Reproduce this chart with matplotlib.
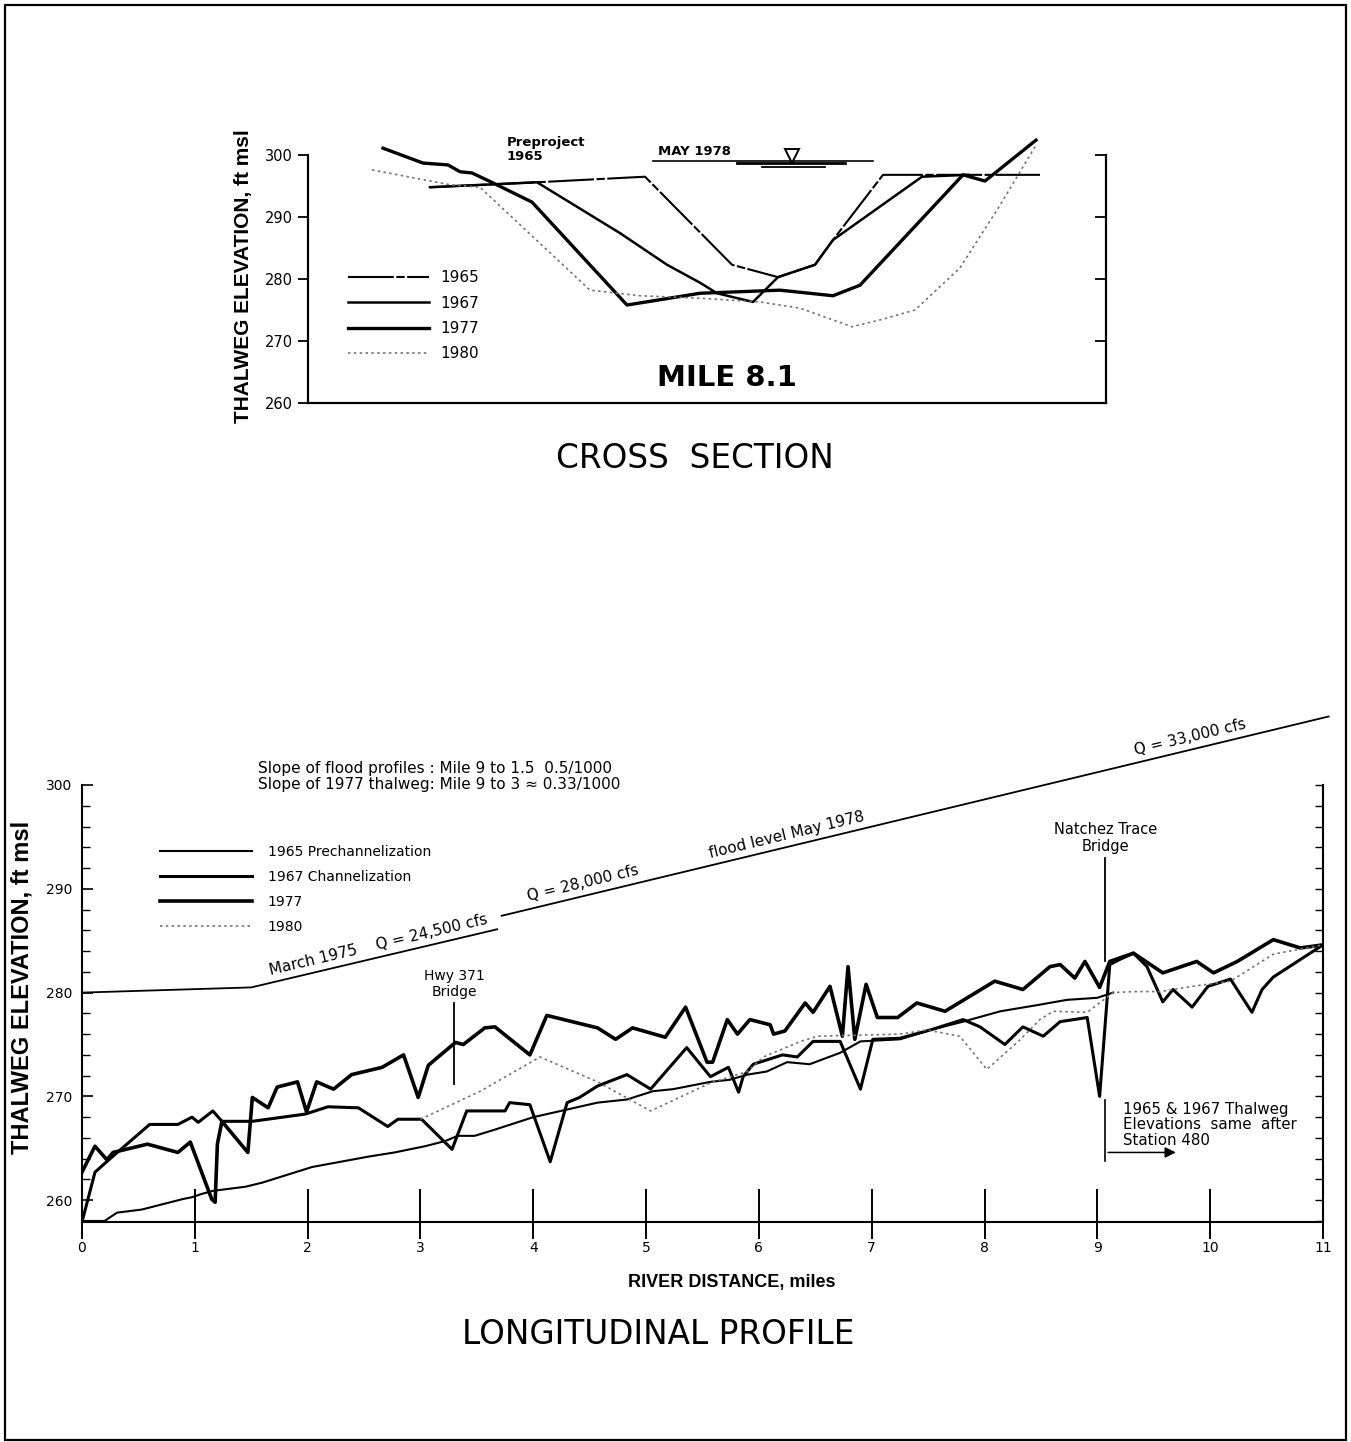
import math
import numpy as np
import matplotlib
matplotlib.use("Agg")
import matplotlib.pyplot as plt
from matplotlib.patches import Rectangle

# ------------------------------------------------------------------
# Cross section, Mile 8.1 (x = relative distance across channel, ft)
# ------------------------------------------------------------------
xs1965_x = [61, 114.5, 168.5, 212, 235, 253.5, 262.5, 287.5, 366]
xs1965_y = [294.8, 295.6, 296.5, 282.3, 280.3, 282.3, 286.3, 296.8, 296.8]

xs1967_x = [61, 114.5, 156, 179.5, 196, 204.5, 222.5, 235, 253.5, 262.5, 307, 330]
xs1967_y = [294.8, 295.6, 287.4, 282.3, 279.4, 277.7, 276.3, 280.3, 282.3, 286.3, 296.5, 296.8]

xs1977_x = [37.5, 57.5, 70, 76, 82, 92.5, 112, 159.5, 196, 236, 262.5, 276, 327.5, 338.5, 364]
xs1977_y = [301.1, 298.7, 298.4, 297.3, 297.1, 295.5, 292.4, 275.8, 277.7, 278.2, 277.3, 279.0, 296.8, 295.8, 302.4]

xs1980_x = [32, 71, 86, 141, 166, 196, 226, 246, 272, 286, 303.5, 326, 346, 364]
xs1980_y = [297.6, 295.2, 294.8, 278.2, 277.3, 276.9, 276.3, 275.3, 272.3, 273.4, 275.0, 281.8, 291.9, 301.6]

# May 1978 water surface symbol
ws_x = [172.5, 282.5]
ws_y = [299.0, 299.0]
ws2_x = [214.5, 268.5]
ws2_y = [298.7, 298.7]
ws3_x = [227, 258.5]
ws3_y = [298.1, 298.1]
ws_tri_x = [242]
ws_tri_y = [299.85]

xs_yticks = [260, 270, 280, 290, 300]

# ------------------------------------------------------------------
# Longitudinal profile (river distance, miles; elevation, ft msl)
# ------------------------------------------------------------------
p1965_x = [0, 0.20, 0.31, 0.53, 0.89, 0.98, 1.06, 1.16, 1.45, 1.60, 2.04, 2.54, 2.77, 3.04, 3.22,
           3.33, 3.48, 3.66, 4.00, 4.57, 4.83, 5.06, 5.24, 5.57, 5.74, 5.90, 6.07, 6.25, 6.45,
           6.72, 6.90, 7.25, 7.52, 7.81, 8.14, 8.47, 8.73, 9.00, 9.14]
p1965_y = [258.0, 258.0, 258.8, 259.1, 260.1, 260.3, 260.6, 260.9, 261.3, 261.7, 263.2, 264.2, 264.6,
           265.2, 265.7, 266.2, 266.2, 266.8, 268.0, 269.4, 269.7, 270.5, 270.7, 271.4, 271.6, 272.1,
           272.4, 273.3, 273.1, 274.2, 275.3, 275.5, 276.4, 277.2, 278.2, 278.8, 279.3, 279.5, 280.0]

p1967_x = [0, 0.115, 0.27, 0.60, 0.85, 0.975, 1.03, 1.16, 1.24, 1.51, 1.98, 2.18, 2.45, 2.71, 2.80,
           3.01, 3.28, 3.41, 3.63, 3.75, 3.79, 3.97, 4.15, 4.30, 4.41, 4.57, 4.83, 5.04, 5.36, 5.57,
           5.73, 5.82, 5.86, 5.95, 6.21, 6.34, 6.48, 6.72, 6.90, 7.01, 7.25, 7.52, 7.81, 7.96, 8.18,
           8.34, 8.52, 8.67, 8.91, 9.02, 9.11, 9.20, 9.32, 9.44, 9.58, 9.67, 9.84, 9.98, 10.18,
           10.37, 10.46, 10.56, 11.0]
p1967_y = [257.9, 262.7, 264.2, 267.3, 267.3, 268.0, 267.5, 268.6, 267.6, 267.6, 268.3, 269.0, 268.9,
           267.1, 267.8, 267.8, 264.9, 268.6, 268.6, 268.6, 269.4, 269.2, 263.7, 269.4, 269.9, 271.0,
           272.1, 270.7, 274.7, 271.9, 272.8, 270.4, 271.9, 273.1, 274.0, 273.8, 275.3, 275.3, 270.7,
           275.5, 275.6, 276.4, 277.4, 276.7, 275.0, 276.7, 275.8, 277.2, 277.6, 270.0, 282.7, 283.2,
           283.8, 282.5, 279.1, 280.3, 278.6, 280.6, 281.3, 278.1, 280.3, 281.5, 284.6]

p1977_x = [0, 0.115, 0.22, 0.275, 0.58, 0.85, 0.96, 1.15, 1.18, 1.20, 1.24, 1.47, 1.51, 1.65, 1.73,
           1.91, 1.99, 2.08, 2.23, 2.39, 2.66, 2.85, 2.98, 3.07, 3.31, 3.38, 3.57, 3.66, 3.97, 4.12,
           4.57, 4.73, 4.88, 5.17, 5.35, 5.54, 5.59, 5.72, 5.81, 5.92, 6.10, 6.13, 6.23, 6.41, 6.48,
           6.63, 6.74, 6.79, 6.85, 6.95, 7.05, 7.23, 7.40, 7.65, 8.09, 8.34, 8.58, 8.67, 8.80, 8.89,
           9.02, 9.11, 9.32, 9.58, 9.88, 10.03, 10.24, 10.56, 10.80, 11.0]
p1977_y = [262.7, 265.2, 263.9, 264.6, 265.4, 264.6, 265.6, 260.1, 259.8, 265.4, 267.6, 264.6, 269.9,
           268.9, 270.9, 271.4, 268.5, 271.4, 270.7, 272.1, 272.8, 274.0, 269.9, 273.0, 275.2, 275.0,
           276.6, 276.7, 274.0, 277.8, 276.6, 275.5, 276.6, 275.7, 278.6, 273.3, 273.3, 277.4, 276.0,
           277.4, 276.9, 276.0, 276.3, 279.0, 278.1, 280.6, 275.8, 282.5, 275.5, 280.8, 277.6, 277.6,
           279.0, 278.2, 281.1, 280.3, 282.5, 282.7, 281.4, 283.0, 280.5, 283.0, 283.8, 281.9, 283.0,
           281.9, 283.0, 285.1, 284.3, 284.6]

p1980_x = [3.00, 3.53, 4.06, 4.57, 5.04, 5.57, 5.90, 6.04, 6.37, 6.52, 7.25, 7.49, 7.78, 8.02, 8.30,
           8.49, 8.61, 8.91, 9.14, 9.32, 9.56, 9.84, 10.18, 10.56, 11.0]
p1980_y = [267.8, 270.5, 273.8, 271.4, 268.6, 271.3, 272.4, 273.8, 275.3, 275.8, 276.0, 276.4, 275.8,
           272.6, 275.3, 277.4, 278.2, 278.1, 280.0, 280.1, 280.1, 280.6, 281.1, 283.7, 284.6]

# flood water-surface profiles
flood75_x = [0, 1.5, 3.68]
flood75_y = [280.0, 280.5, 286.1]
flood78_x = [3.72, 11.05]
flood78_y = [287.4, 306.6]

lp_xticks = list(range(0, 12))
lp_yticks = [260, 270, 280, 290, 300]
lp_yminor = list(range(258, 301, 2))

hwy_x = 3.30
hwy_y = [271.2, 279.0]
natchez_x = 9.07
natchez_y = [283.0, 293.0]
station_y = [263.75, 269.7]
arrow_x = [9.07, 9.72]
arrow_y = 264.6

# ------------------------------------------------------------------
W, H = 1351, 1442
fig = plt.figure(figsize=(W / 100, H / 100), dpi=100)
fig.patch.set_facecolor("white")

LET = "DejaVu Sans"
LAB = "Liberation Sans"


def fx(px):
    return px / W


def fy(py):
    return 1 - py / H


# ---------------- Cross section axes ----------------
ax1 = fig.add_axes([fx(308), fy(403), (1106 - 308) / W, (403 - 155) / H])
ax1.set_xlim(0, 399)
ax1.set_ylim(260, 300)
ax1.spines["top"].set_visible(False)
for s in ["left", "bottom", "right"]:
    ax1.spines[s].set_linewidth(1.6)
ax1.set_xticks([])
ax1.set_yticks(xs_yticks)
ax1.set_yticklabels([str(v) for v in xs_yticks], fontfamily=LET, fontsize=10.5)
ax1.tick_params(axis="y", direction="out", length=7, width=1.3, pad=4)
sec1 = ax1.secondary_yaxis("right")
sec1.set_yticks(xs_yticks[1:])
sec1.tick_params(axis="y", direction="in", length=8, width=1.3, labelright=False)
sec1.spines["right"].set_linewidth(1.6)
ax1.spines["right"].set_visible(False)

l65, = ax1.plot(xs1965_x, xs1965_y, color="black", lw=1.5,
                linestyle=(0, (22, 1.2, 4, 1.2)), clip_on=False, label="1965")
l67, = ax1.plot(xs1967_x, xs1967_y, color="black", lw=1.8, clip_on=False, label="1967")
l77, = ax1.plot(xs1977_x, xs1977_y, color="black", lw=2.4, clip_on=False, label="1977")
l80, = ax1.plot(xs1980_x, xs1980_y, color="0.45", lw=1.2, linestyle=(0, (1.5, 2)),
                clip_on=False, label="1980")

ax1.plot(ws_x, ws_y, color="black", lw=1.2, clip_on=False)
ax1.plot(ws2_x, ws2_y, color="black", lw=2.0, clip_on=False)
ax1.plot(ws3_x, ws3_y, color="black", lw=1.3, clip_on=False)
ax1.plot(ws_tri_x, ws_tri_y, marker="v", markersize=10, mfc="white", mec="black",
         mew=1.4, linestyle="none", clip_on=False)

ax1.text(175, 300.6, "MAY 1978", fontfamily=LET, fontsize=9.5, fontweight="bold",
         ha="left", va="center")
ax1.text(99.5, 303.1, "Preproject\n1965", fontfamily=LET, fontsize=9.5, fontweight="bold",
         ha="left", va="top", linespacing=1.15)
ax1.text(209.5, 264.0, "MILE 8.1", fontfamily=LET, fontsize=21, fontweight="bold",
         ha="center", va="center")

ax1.legend(handles=[l65, l67, l77, l80], loc="upper left",
           bbox_to_anchor=((348 - 308) / 798, 0.535), frameon=False,
           prop={"family": LET, "size": 11}, handlelength=5.3, handletextpad=0.75,
           labelspacing=0.68, borderpad=0, borderaxespad=0)

ax1.set_ylabel("THALWEG ELEVATION, ft msl", fontfamily=LAB, fontweight="bold", fontsize=15)
ax1.yaxis.set_label_coords((243 - 308) / 798, (403 - 276) / 248)
ax1.yaxis.label.set_va("center")

fig.text(fx(695), fy(458), "CROSS  SECTION", fontfamily=LET, fontsize=23.5,
         ha="center", va="center")

# ---------------- Longitudinal profile axes ----------------
ax2 = fig.add_axes([fx(82), fy(1222), (1323 - 82) / W, (1222 - 785) / H])
ax2.set_xlim(0, 11)
ax2.set_ylim(257.9, 300)
ax2.spines["top"].set_visible(False)
for s in ["left", "bottom", "right"]:
    ax2.spines[s].set_linewidth(1.5)
ax2.spines["right"].set_visible(False)

ax2.set_xticks(lp_xticks)
ax2.set_xticklabels([str(v) for v in lp_xticks], fontfamily=LET, fontsize=10)
ax2.xaxis.remove_overlapping_locs = False
ax2.set_xticks(lp_xticks, minor=True)
ax2.tick_params(axis="x", which="major", direction="in", length=24, width=1.4, pad=14)
ax2.tick_params(axis="x", which="minor", direction="out", length=12, width=1.4)

ax2.set_yticks(lp_yticks)
ax2.set_yticklabels([str(v) for v in lp_yticks], fontfamily=LET, fontsize=10)
ax2.set_yticks(lp_yminor, minor=True)
ax2.tick_params(axis="y", which="major", direction="in", length=8, width=1.2, pad=7)
ax2.tick_params(axis="y", which="minor", direction="in", length=6, width=1.0)
sec2 = ax2.secondary_yaxis("right")
sec2.set_yticks(lp_yminor)
sec2.tick_params(axis="y", direction="in", length=6, width=1.0, labelright=False)
sec2.spines["right"].set_linewidth(1.5)

m65, = ax2.plot(p1965_x, p1965_y, color="black", lw=1.5, label="1965 Prechannelization")
m67, = ax2.plot(p1967_x, p1967_y, color="black", lw=2.2, label="1967 Channelization")
m77, = ax2.plot(p1977_x, p1977_y, color="black", lw=2.6, label="1977")
m80, = ax2.plot(p1980_x, p1980_y, color="0.45", lw=1.2, linestyle=(0, (1.5, 2)), label="1980")

ax2.plot(flood75_x, flood75_y, color="black", lw=1.3, clip_on=False)
ax2.plot(flood78_x, flood78_y, color="black", lw=1.3, clip_on=False)


def screen_angle(ax, xa, ya, xb, yb):
    p0 = ax.transData.transform((xa, ya))
    p1 = ax.transData.transform((xb, yb))
    return math.degrees(math.atan2(p1[1] - p0[1], p1[0] - p0[0]))


ang75 = screen_angle(ax2, flood75_x[1], flood75_y[1], flood75_x[2], flood75_y[2])
ang78 = screen_angle(ax2, flood78_x[0], flood78_y[0], flood78_x[1], flood78_y[1])

flood_labels = [
    (2.64, "March 1975    Q = 24,500 cfs", flood75_x, flood75_y, ang75),
    (4.46, "Q = 28,000 cfs", flood78_x, flood78_y, ang78),
    (6.26, "flood level May 1978", flood78_x, flood78_y, ang78),
    (9.84, "Q = 33,000 cfs", flood78_x, flood78_y, ang78),
]
for xl, s, fxs, fys, ang in flood_labels:
    yl = float(np.interp(xl, fxs, fys))
    ax2.text(xl, yl + 0.45, s, rotation=ang, rotation_mode="anchor", ha="center",
             va="bottom", fontfamily=LET, fontsize=11, clip_on=False)

ax2.text(1.56, 301.6, "Slope of flood profiles : Mile 9 to 1.5  0.5/1000",
         fontfamily=LET, fontsize=11, ha="left", va="center", clip_on=False)
ax2.text(1.56, 300.0, "Slope of 1977 thalweg: Mile 9 to 3 \u2248 0.33/1000",
         fontfamily=LET, fontsize=11, ha="left", va="center", clip_on=False)

# Hwy 371 bridge
ax2.plot([hwy_x, hwy_x], hwy_y, color="black", lw=1.3)
ax2.text(hwy_x, hwy_y[1] + 0.4, "Hwy 371\nBridge", fontfamily=LET, fontsize=10,
         ha="center", va="bottom", linespacing=1.15)
# Natchez Trace bridge
ax2.plot([natchez_x, natchez_x], natchez_y, color="black", lw=1.3)
ax2.text(natchez_x, natchez_y[1] + 0.4, "Natchez Trace\nBridge", fontfamily=LET,
         fontsize=10.5, ha="center", va="bottom", linespacing=1.15)
# Station 480 note
ax2.plot([natchez_x, natchez_x], station_y, color="black", lw=1.2)
ax2.annotate("", xy=(arrow_x[1], arrow_y), xytext=(arrow_x[0], arrow_y),
             arrowprops=dict(arrowstyle="-|>", lw=1.1, color="black", mutation_scale=16))
ax2.text(9.23, 269.5, "1965 & 1967 Thalweg\nElevations  same  after\nStation 480",
         fontfamily=LET, fontsize=10.8, ha="left", va="top", linespacing=1.05)

ax2.legend(handles=[m65, m67, m77, m80], loc="upper left",
           bbox_to_anchor=((160 - 82) / 1241, 0.863), frameon=False,
           prop={"family": LET, "size": 10}, handlelength=6.6, handletextpad=1.15,
           labelspacing=0.8, borderpad=0, borderaxespad=0)

ax2.set_ylabel("THALWEG ELEVATION, ft msl", fontfamily=LAB, fontweight="bold", fontsize=17)
ax2.yaxis.set_label_coords((22 - 82) / 1241, (1222 - 987) / 437)
ax2.yaxis.label.set_va("center")
ax2.set_xlabel("RIVER DISTANCE, miles", fontfamily=LAB, fontweight="bold", fontsize=13)
ax2.xaxis.set_label_coords((732 - 82) / 1241, (1222 - 1282) / 437)
ax2.xaxis.label.set_va("center")

fig.text(fx(658), fy(1335), "LONGITUDINAL PROFILE", fontfamily=LET, fontsize=23.5,
         ha="center", va="center")

# figure border
fig.patches.append(Rectangle((fx(5), fy(1440)), (1346 - 5) / W, (1440 - 5) / H,
                             transform=fig.transFigure, fill=False, lw=1.6,
                             edgecolor="black"))

fig.savefig("out.png", dpi=100, facecolor="white")
